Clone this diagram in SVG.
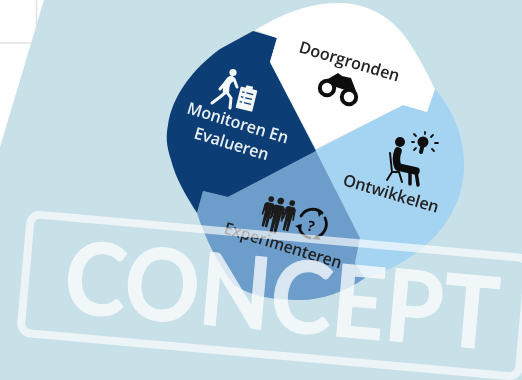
<svg xmlns="http://www.w3.org/2000/svg" width="522" height="380" viewBox="0 0 522 380">
<defs>
<style>
.lb{font-family:"Open Sans","Noto Sans",sans-serif;font-size:16.500px;font-weight:600;fill:#222}
.lw{font-family:"Open Sans","Noto Sans",sans-serif;font-size:16.500px;font-weight:600;fill:#e8f0f6}
.k{fill:none;stroke:#111;stroke-linecap:round;stroke-linejoin:round}
.w{fill:none;stroke:#f4f7fa;stroke-linecap:round;stroke-linejoin:round}
</style>
<filter id="soft" x="-5%" y="-5%" width="110%" height="110%"><feGaussianBlur stdDeviation="0.5"/></filter>
<g id="fig"><circle cx="0" cy="-14" r="3"/><path d="M-3.500 -10H3.500L5.500 -8L6 4L4.500 4L3.500 -3L3 16H.5L0 4L-.5 16H-3L-3.500 -3L-4.500 4L-6 4L-5.500 -8Z"/></g>
</defs>
<rect width="522" height="380" fill="#fff"/>
<path d="M36.500 0V43H0" fill="none" stroke="#e2e2e2" stroke-width="1.500"/>
<polygon points="44,0 522,0 522,380 0,380 0,147" fill="#c8e0e8"/>
<g filter="url(#soft)">
<g id="node-ontwikkelen">
<path d="M316 150L403 105L427 112L435 89C455 112 465 140 464 170C462 205 443 232 420 250C402 264 385 272 365 278L355 263L360 238Z" fill="#a5d4f2"/>
<circle cx="400" cy="142" r="5" fill="#111"/>
<path d="M398 151C396 156 396 162 398 167L416 171" class="k" stroke-width="7.500"/>
<path d="M416 171L418 185M410 170L410 184" class="k" stroke-width="3.500"/>
<path d="M390 153L392 172M392 172L387 180M392 172H399L402 182" class="k" stroke-width="2"/>
<circle cx="423" cy="142" r="5.500" fill="#111"/>
<path d="M422 148L421 152" class="k" stroke-width="4"/>
<path d="M425 132V134M433 135L431 137M438 143H435M434 151L432 149M414 134L416 136M412 142H414M414 150L416 148" class="k" stroke-width="1.800"/>
<text class="lb" transform="translate(342 185) rotate(16.400)" textLength="99" lengthAdjust="spacingAndGlyphs">Ontwikkelen</text>
</g>
<g id="node-experimenteren">
<path d="M203 191L228 197L316 151L360 238L355 263L365 278C345 292 322 300 300 300C270 300 250 296 233 284C217 262 205 238 197 213Z" fill="#6c9dcb"/>
<g fill="#1a1a1a">
<use href="#fig" transform="translate(268 212) rotate(14) scale(.95)"/>
<use href="#fig" transform="translate(289 216) rotate(14) scale(.95)"/>
<use href="#fig" transform="translate(277 216) rotate(14) scale(1.100)"/>
</g>
<path d="M301 216A13.500 13.500 0 0 1 322 213M325 218A13.500 13.500 0 0 1 319 236M310 238A13.500 13.500 0 0 1 299 226" class="k" stroke-width="2.800"/>
<path d="M317 209L323 212L319 217M321 240L317 235L312 239M295 226L302 224L301 230" fill="#111"/>
<text x="311" y="231" transform="rotate(15 311 226)" text-anchor="middle" style="font-family:'Open Sans','Noto Sans',sans-serif;font-size:14px;font-weight:700;fill:#111">?</text>
<text class="lb" transform="translate(223 233) rotate(17)" textLength="122" lengthAdjust="spacingAndGlyphs">Experimenteren</text>
</g>
<g id="node-monitoren">
<path d="M253 31L277 38L270 62L316 151L228 197L203 191L197 213C187 197 176 180 171 160C166 145 166 135 168 125C172 95 195 67 220 49Z" fill="#103e74"/>
<circle cx="233" cy="72.500" r="3.600" fill="#f4f7fa"/>
<path d="M231 79C227 81 226 86 226 91" class="w" stroke-width="6.500"/>
<path d="M226 92L220 97L212 103M226 91L231 98L230 108M226 82L220 89M234 79L237 87" class="w" stroke-width="3"/>
<g transform="rotate(14 246 99)">
<rect x="238" y="88" width="17" height="22" rx="1" fill="#f4f7fa"/>
<rect x="243" y="85.500" width="7" height="4" fill="#f4f7fa"/>
<path d="M245 93H252M245 98H252M245 103H252M240.500 93H243M240.500 98H243M240.500 103H243" fill="none" stroke="#103e74" stroke-width="1.300"/>
</g>
<text class="lw" transform="translate(186 113) rotate(17)" textLength="105" lengthAdjust="spacingAndGlyphs">Monitoren En</text>
<text class="lw" transform="translate(193 138) rotate(17)" textLength="77" lengthAdjust="spacingAndGlyphs">Evalueren</text>
</g>
<g id="node-doorgronden">
<path d="M255 30C283 13 312 2 340 3C372 4 396 20 412 47C421 61 428 75 435 89L427 112L403 105L316 149L270 62L277 38Z" fill="#fff"/>
<circle cx="327" cy="88" r="7.200" fill="none" stroke="#111" stroke-width="4"/>
<circle cx="349" cy="97" r="7.200" fill="none" stroke="#111" stroke-width="4"/>
<path d="M326 80L333 76L338 73L342 76L351 78L356 91L345 90L333 86Z" fill="#111"/>
<text class="lb" transform="translate(298 52) rotate(16.600)" textLength="104" lengthAdjust="spacingAndGlyphs">Doorgronden</text>
</g>
<g id="watermark">
<rect x="0" y="0" width="500" height="119" rx="10" transform="translate(31 214) rotate(5.100)" fill="none" stroke="#fff" stroke-opacity=".65" stroke-width="8"/>
<text transform="translate(62 312) rotate(5) scale(.93 1)" opacity=".75" style="font-family:Lato,'Open Sans',sans-serif;font-size:100px;font-weight:700;fill:#fff;stroke:#fff;stroke-width:1px">CONCEPT</text>
</g>
</g>
<g id="connectors"/>
</svg>
